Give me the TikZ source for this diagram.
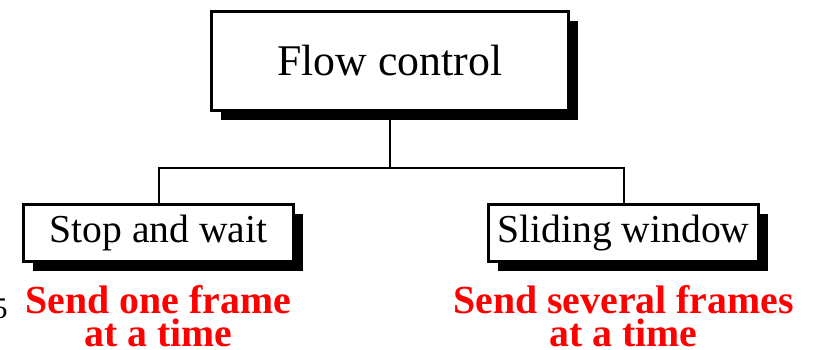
\documentclass[tikz,border=0pt]{standalone}
\usepackage{fontspec}
\setmainfont{Liberation Serif}
\usepackage{tikz}
\usetikzlibrary{shapes,positioning,shadows}
\tikzstyle{block} = [rectangle, draw, fill=white, line width=1.5pt,
    drop shadow={shadow xshift=4.5pt, shadow yshift=-4.5pt, fill=black, opacity=1}]
\tikzstyle{line} = [draw, line width=1pt]

\begin{document}
\begin{tikzpicture}[x=0.5pt, y=-0.5pt, node distance=11pt]
    % Style definitions
    \tikzstyle{note} = [text=red, font=\fontsize{19.9}{16.5}\selectfont\bfseries,
        align=center, inner sep=0pt]
    \useasboundingbox (0,0) rectangle (817,349);

    % Boxes
    \node [block, minimum width=178.5pt, minimum height=49.5pt,
        font=\fontsize{21.9}{24}\selectfont] (flow) at (390,61) {Flow control};
    \node [block, minimum width=135pt, minimum height=28.5pt,
        font=\fontsize{19.8}{22}\selectfont] (stop) at (158.5,233) {Stop and wait};
    \node [block, minimum width=135pt, minimum height=28.5pt,
        font=\fontsize{19.8}{22}\selectfont] (slide) at (623.5,233) {Sliding window};

    % Connections
    \coordinate (split) at (390,168);
    \path [line] (flow.south) -- (split);
    \path [line] (split) -| (stop.north);
    \path [line] (split) -| (slide.north);

    % Notes
    \node [note, below=of stop] (onenote) {Send one frame\\at a time};
    \node [note, below=of slide] (severalnote) {Send several frames\\at a time};
    \node [anchor=base east, inner sep=0pt, font=\fontsize{15}{15}\selectfont]
        (pagenum) at (8,318) {5};
\end{tikzpicture}
\end{document}
